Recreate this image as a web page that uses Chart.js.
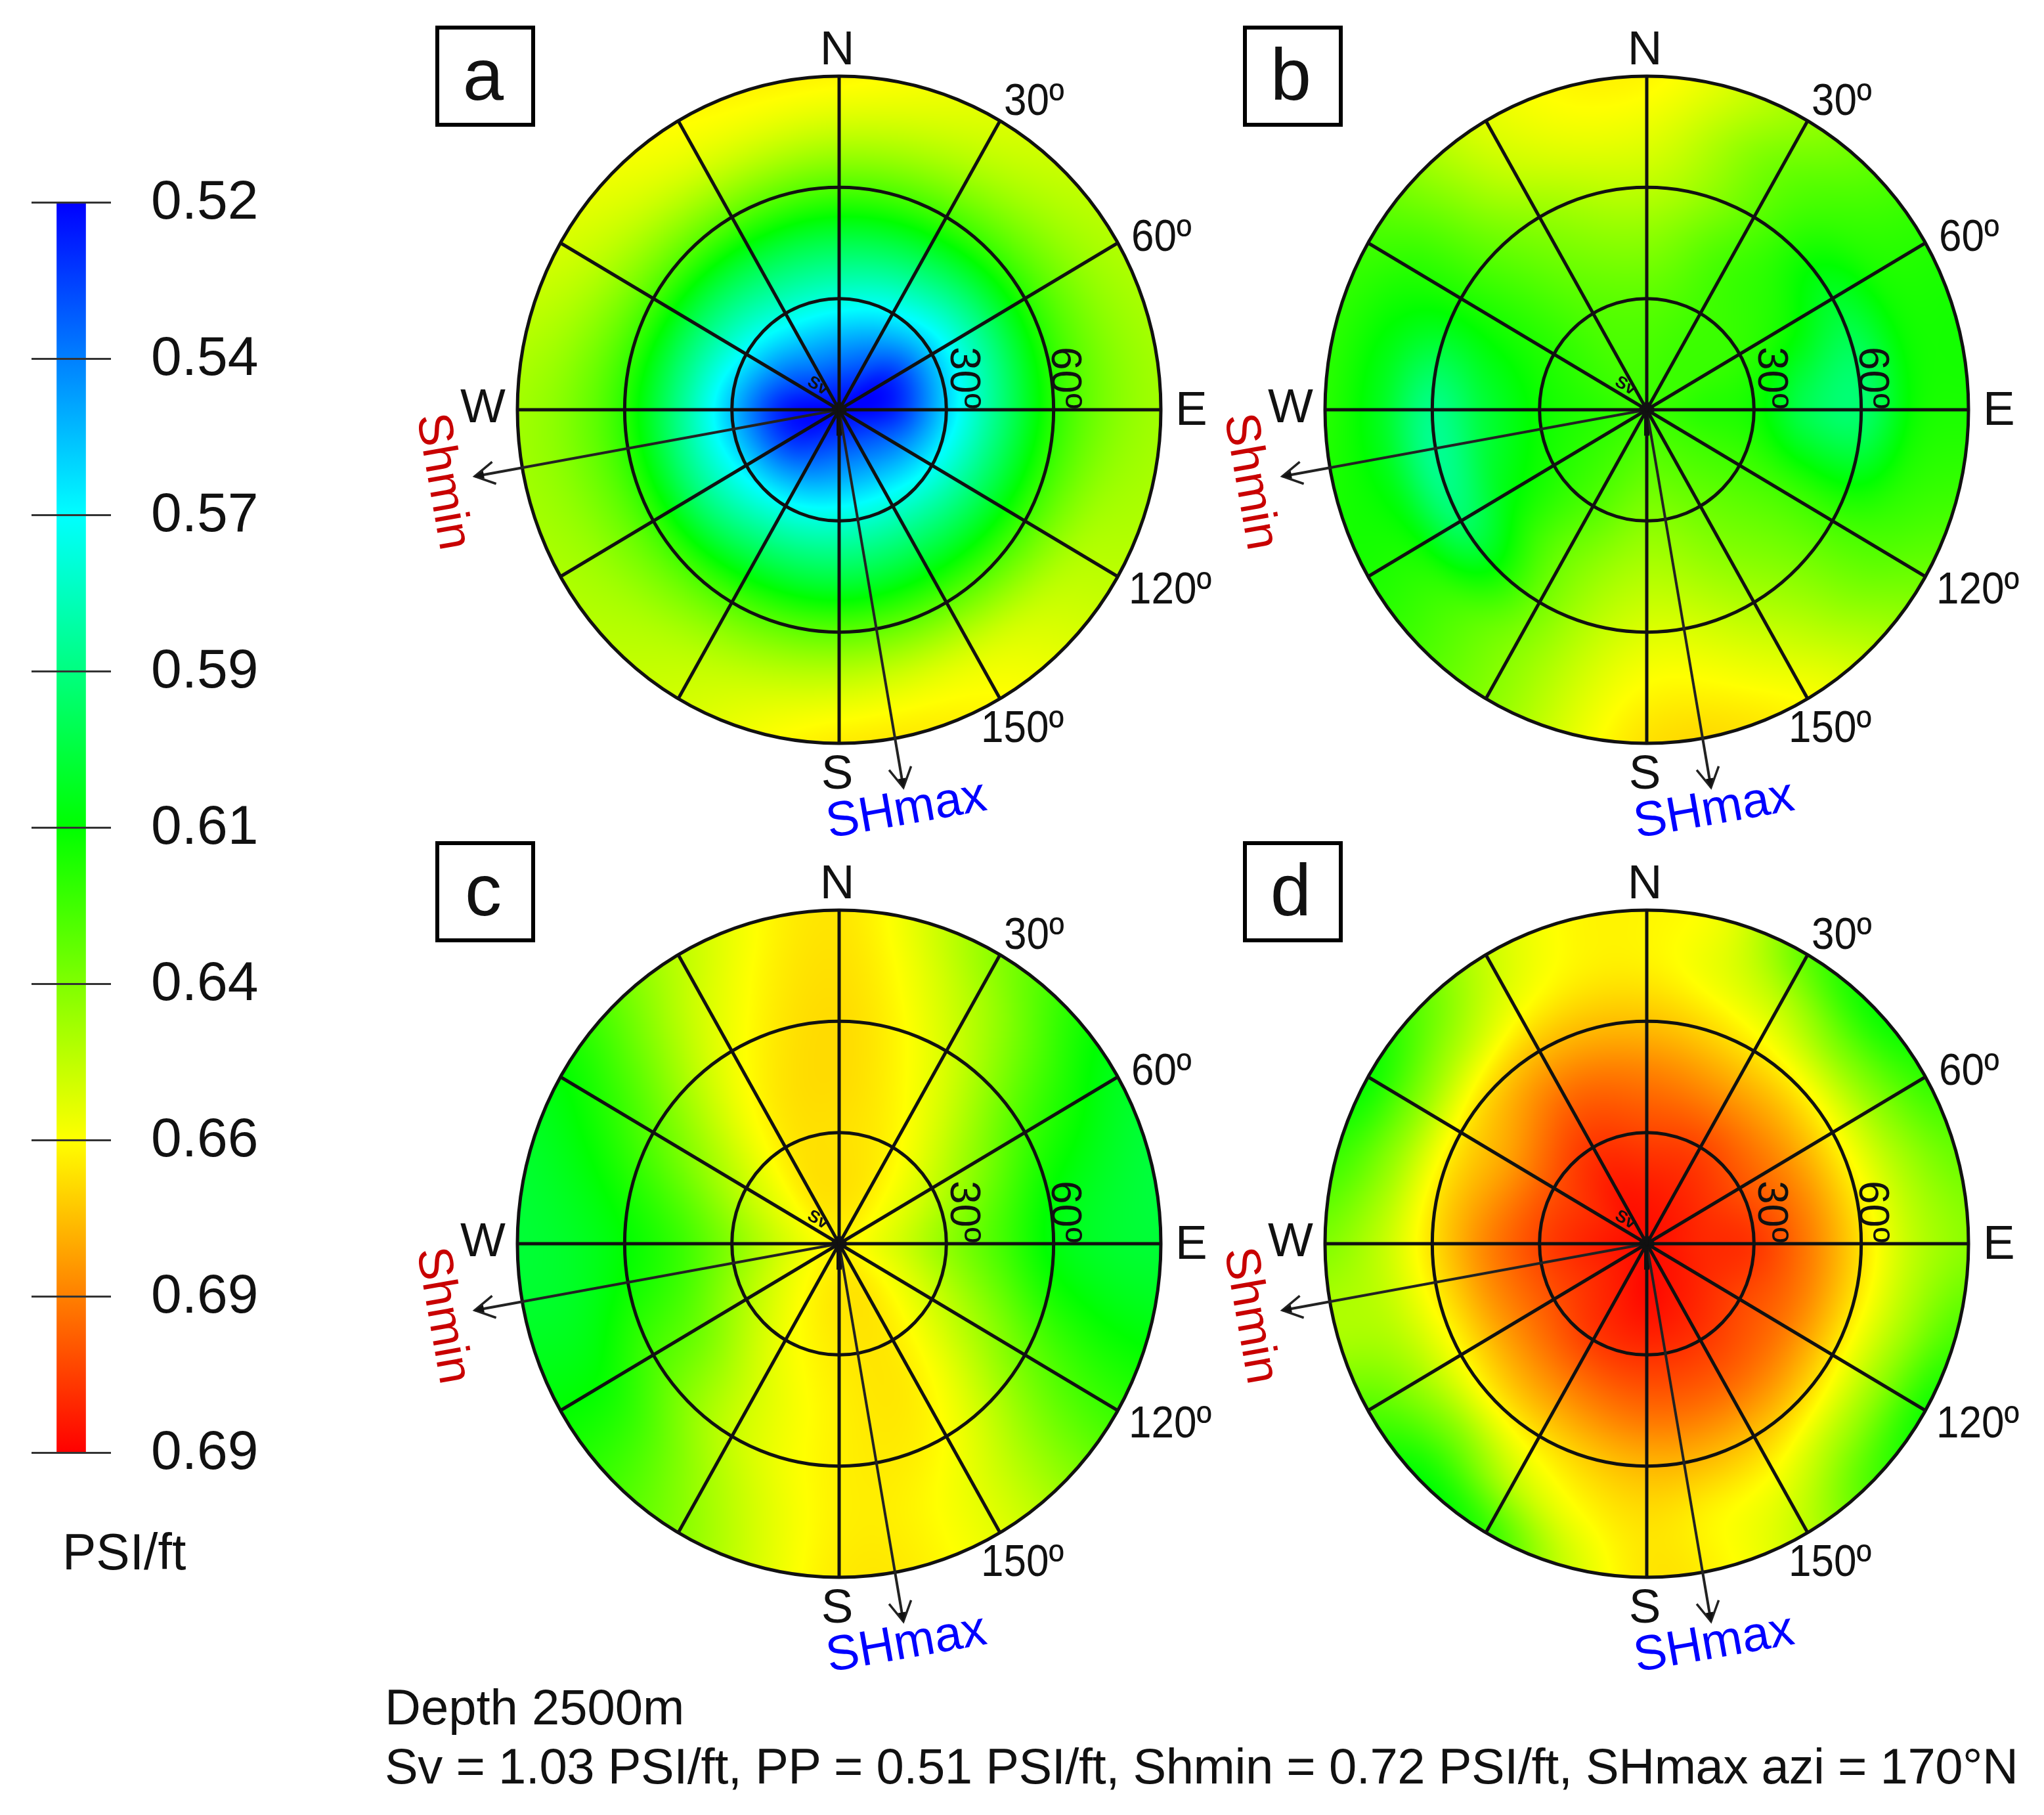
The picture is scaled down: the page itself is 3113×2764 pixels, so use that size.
<!DOCTYPE html>
<html>
<head>
<meta charset="utf-8">
<title>Fracture gradient stereonets</title>
<script src="https://cdn.jsdelivr.net/npm/chart.js@4/dist/chart.umd.min.js"></script>
<style>
    html, body { margin: 0; padding: 0; background: #fff; width: 3113px; height: 2764px; overflow: hidden; }
    canvas { position: absolute; }
    .note { position: absolute; font-family: "Liberation Sans", Arial, sans-serif; color: #111; white-space: nowrap; line-height: 1; }
</style>
</head>
<body>
<canvas id="scaleBar" width="420" height="2400" style="left:0;top:0"></canvas>
<canvas id="panelA" width="1360" height="1320" style="left:598px;top:-36px"></canvas>
<canvas id="panelB" width="1360" height="1320" style="left:1828px;top:-36px"></canvas>
<canvas id="panelC" width="1360" height="1320" style="left:598px;top:1234px"></canvas>
<canvas id="panelD" width="1360" height="1320" style="left:1828px;top:1234px"></canvas>
<div class="note" style="left:95px;top:2325px;font-size:77px">PSI/ft</div>
<div class="note" style="left:586px;top:2562px;font-size:76px">Depth 2500m</div>
<div class="note" style="left:586px;top:2652px;font-size:76px;letter-spacing:-0.46px">Sv = 1.03 PSI/ft, PP = 0.51 PSI/ft, Shmin = 0.72 PSI/ft, SHmax azi = 170°N</div>

<script>
const tickLabels = ['0.52', '0.54', '0.57', '0.59', '0.61', '0.64', '0.66', '0.69', '0.69'];
const scaleMin = 0.52;
const scaleMax = 0.71;
const rampColors = [[0, 0, 255], [0, 255, 255], [0, 255, 0], [255, 255, 0], [255, 0, 0]];

const spokeAzimuths = [0, 30, 60, 90, 120, 150, 180, 210, 240, 270, 300, 330];
const ringDips = [30, 60, 90];
const stressAzimuths = [170, 260];
const stressArrowLength = 103.5;

// PSI/ft. One row per dip (0, 15, 30 ... 90), azimuth runs clockwise from N.
const panelAValues = [
    [0.520],
    [0.545, 0.538, 0.525, 0.526, 0.538, 0.545, 0.545, 0.538, 0.528, 0.525, 0.536, 0.545],
    [0.574, 0.567, 0.558, 0.560, 0.568, 0.575, 0.575, 0.570, 0.562, 0.556, 0.566, 0.574],
    [0.601, 0.597, 0.590, 0.592, 0.598, 0.603, 0.602, 0.600, 0.592, 0.590, 0.596, 0.601],
    [0.630, 0.627, 0.622, 0.622, 0.627, 0.632, 0.632, 0.630, 0.625, 0.622, 0.628, 0.632],
    [0.652, 0.647, 0.640, 0.638, 0.646, 0.655, 0.654, 0.648, 0.641, 0.638, 0.647, 0.654],
    [0.664, 0.656, 0.648, 0.645, 0.650, 0.663, 0.666, 0.654, 0.647, 0.645, 0.655, 0.663]
];
const panelBValues = [
    [0.626],
    [0.628, 0.626, 0.625, 0.622, 0.626, 0.630, 0.632, 0.628, 0.624, 0.622, 0.625, 0.628],
    [0.632, 0.627, 0.624, 0.618, 0.627, 0.635, 0.640, 0.630, 0.620, 0.617, 0.622, 0.630],
    [0.640, 0.627, 0.618, 0.600, 0.627, 0.640, 0.648, 0.635, 0.612, 0.605, 0.620, 0.635],
    [0.650, 0.632, 0.608, 0.595, 0.627, 0.647, 0.656, 0.636, 0.596, 0.590, 0.620, 0.642],
    [0.658, 0.635, 0.620, 0.617, 0.630, 0.655, 0.663, 0.640, 0.618, 0.610, 0.622, 0.652],
    [0.664, 0.643, 0.622, 0.620, 0.635, 0.662, 0.668, 0.640, 0.620, 0.622, 0.627, 0.657]
];
const panelCValues = [
    [0.665],
    [0.668, 0.666, 0.660, 0.656, 0.661, 0.667, 0.667, 0.664, 0.659, 0.655, 0.660, 0.667],
    [0.668, 0.664, 0.652, 0.642, 0.654, 0.666, 0.666, 0.660, 0.648, 0.640, 0.652, 0.666],
    [0.669, 0.660, 0.640, 0.628, 0.645, 0.665, 0.665, 0.655, 0.635, 0.625, 0.642, 0.664],
    [0.669, 0.655, 0.627, 0.613, 0.635, 0.662, 0.665, 0.652, 0.628, 0.615, 0.632, 0.660],
    [0.668, 0.648, 0.618, 0.607, 0.628, 0.658, 0.665, 0.645, 0.617, 0.608, 0.622, 0.655],
    [0.667, 0.640, 0.610, 0.605, 0.625, 0.657, 0.666, 0.640, 0.615, 0.605, 0.615, 0.650]
];
const panelDValues = [
    [0.708],
    [0.705, 0.704, 0.703, 0.703, 0.704, 0.706, 0.708, 0.705, 0.703, 0.704, 0.703, 0.706],
    [0.697, 0.697, 0.695, 0.700, 0.697, 0.700, 0.701, 0.699, 0.695, 0.697, 0.695, 0.700],
    [0.687, 0.683, 0.683, 0.687, 0.687, 0.690, 0.690, 0.685, 0.682, 0.685, 0.680, 0.690],
    [0.674, 0.667, 0.664, 0.668, 0.667, 0.674, 0.676, 0.668, 0.663, 0.668, 0.666, 0.675],
    [0.665, 0.659, 0.650, 0.639, 0.641, 0.647, 0.650, 0.647, 0.643, 0.647, 0.659, 0.664,
     0.668, 0.662, 0.650, 0.637, 0.643, 0.650, 0.650, 0.643, 0.639, 0.647, 0.659, 0.665],
    [0.664, 0.658, 0.632, 0.617, 0.624, 0.635, 0.641, 0.630, 0.619, 0.628, 0.650, 0.663,
     0.667, 0.652, 0.624, 0.615, 0.630, 0.647, 0.639, 0.626, 0.617, 0.632, 0.652, 0.663]
];

const fontFamily = '"Liberation Sans", Arial, sans-serif';
const inkColor = '#111';

function rampColor(value) {
    const t = Math.min(Math.max((value - scaleMin) / (scaleMax - scaleMin), 0), 1) * (rampColors.length - 1);
    const i = Math.min(Math.floor(t), rampColors.length - 2);
    const f = t - i;
    const a = rampColors[i];
    const b = rampColors[i + 1];
    return [a[0] + (b[0] - a[0]) * f, a[1] + (b[1] - a[1]) * f, a[2] + (b[2] - a[2]) * f];
}

function cubic(p0, p1, p2, p3, f) {
    return p1 + 0.5 * f * (p2 - p0 + f * (2 * p0 - 5 * p1 + 4 * p2 - p3 + f * (3 * (p1 - p2) + p3 - p0)));
}

function sampleRow(row, azimuth) {
    const n = row.length;
    if (n === 1) return row[0];
    const pos = azimuth / 360 * n;
    const i = Math.floor(pos);
    return cubic(row[(i - 1 + n) % n], row[i % n], row[(i + 1) % n], row[(i + 2) % n], pos - i);
}

function sampleField(rows, dip, azimuth) {
    const last = rows.length - 1;
    const pos = Math.min(dip / 15, last);
    const i = Math.min(Math.floor(pos), last - 1);
    return cubic(
        sampleRow(rows[Math.max(i - 1, 0)], azimuth),
        sampleRow(rows[i], azimuth),
        sampleRow(rows[i + 1], azimuth),
        sampleRow(rows[Math.min(i + 2, last)], azimuth),
        pos - i
    );
}

// paints the colour field under the grid, every pixel goes through the chart's scales
function paintField(chart, rows) {
    const { left, top, width, height } = chart.chartArea;
    const w = Math.ceil(width);
    const h = Math.ceil(height);
    const off = document.createElement('canvas');
    off.width = w;
    off.height = h;
    const offCtx = off.getContext('2d');
    const img = offCtx.createImageData(w, h);
    const xs = [];
    const ys = [];
    for (let px = 0; px < w; px++) xs.push(chart.scales.x.getValueForPixel(left + px + 0.5));
    for (let py = 0; py < h; py++) ys.push(chart.scales.y.getValueForPixel(top + py + 0.5));
    for (let py = 0; py < h; py++) {
        for (let px = 0; px < w; px++) {
            const dip = Math.hypot(xs[px], ys[py]);
            if (dip > 91) continue;
            let azimuth = Math.atan2(xs[px], ys[py]) * 180 / Math.PI;
            if (azimuth < 0) azimuth += 360;
            const c = rampColor(sampleField(rows, dip, azimuth));
            const k = (py * w + px) * 4;
            img.data[k] = c[0];
            img.data[k + 1] = c[1];
            img.data[k + 2] = c[2];
            img.data[k + 3] = 255;
        }
    }
    offCtx.putImageData(img, 0, 0);
    const ctx = chart.ctx;
    ctx.save();
    ctx.beginPath();
    ctx.ellipse(left + width / 2, top + height / 2, width / 2, height / 2, 0, 0, Math.PI * 2);
    ctx.clip();
    ctx.drawImage(off, left, top);
    ctx.restore();
}

function drawRings(chart) {
    const { x, y } = chart.scales;
    const ctx = chart.ctx;
    ctx.save();
    ctx.strokeStyle = inkColor;
    ctx.lineWidth = 5;
    ringDips.forEach(dip => {
        ctx.beginPath();
        ctx.ellipse(x.getPixelForValue(0), y.getPixelForValue(0),
            x.getPixelForValue(dip) - x.getPixelForValue(0),
            y.getPixelForValue(0) - y.getPixelForValue(dip), 0, 0, Math.PI * 2);
        ctx.stroke();
    });
    ctx.restore();
}

function drawArrowHeads(chart) {
    const { x, y } = chart.scales;
    const ctx = chart.ctx;
    ctx.save();
    ctx.strokeStyle = '#222';
    ctx.fillStyle = '#111';
    ctx.lineWidth = 3.5;
    stressAzimuths.forEach(az => {
        const rad = az * Math.PI / 180;
        const tipX = x.getPixelForValue(stressArrowLength * Math.sin(rad));
        const tipY = y.getPixelForValue(stressArrowLength * Math.cos(rad));
        const angle = Math.atan2(tipY - y.getPixelForValue(0), tipX - x.getPixelForValue(0));
        ctx.save();
        ctx.translate(tipX, tipY);
        ctx.rotate(angle);
        ctx.beginPath();
        ctx.moveTo(-30, -17);
        ctx.lineTo(0, 0);
        ctx.lineTo(-30, 17);
        ctx.stroke();
        ctx.beginPath();
        ctx.moveTo(0, 0);
        ctx.lineTo(-14, -6);
        ctx.lineTo(-14, 6);
        ctx.closePath();
        ctx.fill();
        ctx.restore();
    });
    ctx.restore();
}

function putText(ctx, text, px, py, font, color, rotation, align, stretch) {
    ctx.save();
    ctx.translate(px, py);
    ctx.rotate(rotation * Math.PI / 180);
    ctx.scale(1, stretch || 1);
    ctx.font = font;
    ctx.fillStyle = color;
    ctx.textAlign = align || 'left';
    ctx.textBaseline = 'alphabetic';
    ctx.fillText(text, 0, 0);
    ctx.restore();
}

function drawPanelText(chart, letter, boxTop) {
    const cx = chart.scales.x.getPixelForValue(0);
    const cy = chart.scales.y.getPixelForValue(0);
    const ctx = chart.ctx;
    const compass = `73px ${fontFamily}`;
    const degree = `62px ${fontFamily}`;
    const inner = `64px ${fontFamily}`;

    putText(ctx, 'N', cx - 3, cy - 526, compass, inkColor, 0, 'center');
    putText(ctx, 'S', cx - 3, cy + 577, compass, inkColor, 0, 'center');
    putText(ctx, 'W', cx - 508, cy + 19, compass, inkColor, 0, 'right');
    putText(ctx, 'E', cx + 512, cy + 23, compass, inkColor, 0, 'left');

    putText(ctx, '30º', cx + 251, cy - 449, degree, inkColor, 0, 'left', 1.1);
    putText(ctx, '60º', cx + 445, cy - 242, degree, inkColor, 0, 'left', 1.1);
    putText(ctx, '120º', cx + 441, cy + 295, degree, inkColor, 0, 'left', 1.1);
    putText(ctx, '150º', cx + 216, cy + 506, degree, inkColor, 0, 'left', 1.1);
    putText(ctx, '30º', cx + 170, cy - 96, inner, inkColor, 90);
    putText(ctx, '60º', cx + 324, cy - 96, inner, inkColor, 90);
    putText(ctx, 'Sv', cx - 50, cy - 38, `bold 26px ${fontFamily}`, inkColor, 30);

    putText(ctx, 'Shmin', cx - 643, cy + 10, `74px ${fontFamily}`, '#c80000', 80);
    putText(ctx, 'SHmax', cx - 15, cy + 652, `75px ${fontFamily}`, '#0000ff', -10);

    ctx.save();
    ctx.strokeStyle = '#000';
    ctx.lineWidth = 6;
    ctx.strokeRect(cx - 612, cy + boxTop, 146, 148);
    ctx.restore();
    putText(ctx, letter, cx - 542, cy + boxTop + 110, `112px ${fontFamily}`, inkColor, 0, 'center');
}

function spokeLine(azimuth) {
    const rad = azimuth * Math.PI / 180;
    return {
        data: [{ x: 0, y: 0 }, { x: 90 * Math.sin(rad), y: 90 * Math.cos(rad) }],
        showLine: true,
        borderColor: inkColor,
        borderWidth: 5,
        pointRadius: 0,
        clip: false
    };
}

function stressLine(azimuth) {
    const rad = azimuth * Math.PI / 180;
    return {
        data: [{ x: 0, y: 0 }, { x: stressArrowLength * Math.sin(rad), y: stressArrowLength * Math.cos(rad) }],
        showLine: true,
        borderColor: '#222',
        borderWidth: 4,
        pointRadius: 0,
        clip: false
    };
}

function createPanel(canvasId, letter, rows, boxTop) {
    const ctx = document.getElementById(canvasId).getContext('2d');
    new Chart(ctx, {
        type: 'scatter',
        data: {
            datasets: [
                ...spokeAzimuths.map(spokeLine),
                ...stressAzimuths.map(stressLine),
                {
                    data: [{ x: 0, y: 0 }, { x: 0, y: -7 }],
                    showLine: true,
                    borderColor: inkColor,
                    borderWidth: 8,
                    pointRadius: 0
                },
                {
                    data: [{ x: 0, y: 0 }],
                    pointStyle: 'rectRot',
                    pointRadius: 14,
                    pointBackgroundColor: inkColor,
                    pointBorderWidth: 0
                }
            ]
        },
        options: {
            responsive: false,
            animation: false,
            layout: { padding: { left: 190, right: 190, top: 152, bottom: 152 } },
            scales: {
                x: { display: false, type: 'linear', min: -90, max: 90 },
                y: { display: false, type: 'linear', min: -90, max: 90 }
            },
            plugins: {
                legend: { display: false },
                tooltip: { enabled: false }
            }
        },
        plugins: [{
            id: 'stereonet',
            beforeDatasetsDraw(chart) {
                paintField(chart, rows);
                drawRings(chart);
            },
            afterDatasetsDraw(chart) {
                drawArrowHeads(chart);
                drawPanelText(chart, letter, boxTop);
            }
        }]
    });
}

function createScaleBar() {
    const ctx = document.getElementById('scaleBar').getContext('2d');
    new Chart(ctx, {
        type: 'bar',
        data: {
            labels: ['PSI/ft'],
            datasets: [{
                data: [[0, tickLabels.length - 1]],
                barThickness: 44,
                backgroundColor(context) {
                    const area = context.chart.chartArea;
                    if (!area) return '#000';
                    const gradient = context.chart.ctx.createLinearGradient(0, area.top, 0, area.bottom);
                    rampColors.forEach((c, i) => {
                        gradient.addColorStop(i / (rampColors.length - 1), `rgb(${c[0]},${c[1]},${c[2]})`);
                    });
                    return gradient;
                }
            }]
        },
        options: {
            responsive: false,
            animation: false,
            layout: { padding: { left: 48, top: 308, bottom: 188 } },
            scales: {
                x: { display: false },
                y: {
                    position: 'right',
                    reverse: true,
                    min: 0,
                    max: tickLabels.length - 1,
                    afterFit(scale) { scale.width = 251; },
                    border: { display: false },
                    grid: { color: '#333', lineWidth: 3, z: 1, drawTicks: false },
                    ticks: {
                        stepSize: 1,
                        padding: 61,
                        labelOffset: 2,
                        color: inkColor,
                        font: { family: fontFamily, size: 84 },
                        callback: value => tickLabels[value]
                    }
                }
            },
            plugins: {
                legend: { display: false },
                tooltip: { enabled: false }
            }
        }
    });
}

createScaleBar();
createPanel('panelA', 'a', panelAValues, -582);
createPanel('panelB', 'b', panelBValues, -582);
createPanel('panelC', 'c', panelCValues, -610);
createPanel('panelD', 'd', panelDValues, -610);
</script>
</body>
</html>
